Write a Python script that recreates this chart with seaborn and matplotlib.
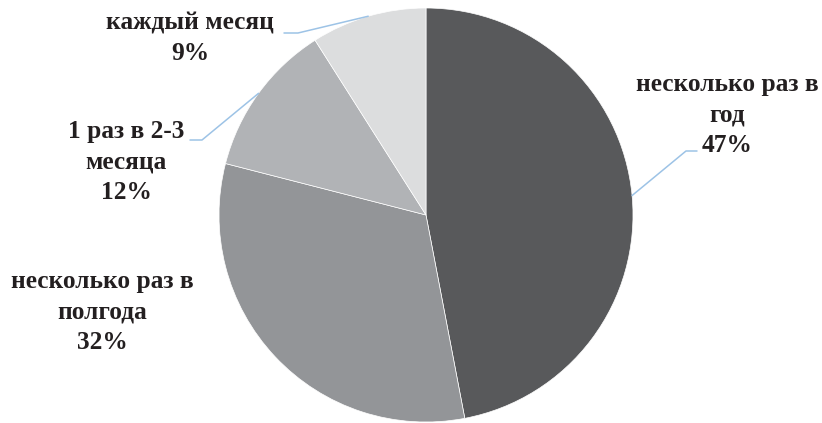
import numpy as np
import matplotlib
matplotlib.use("Agg")
import matplotlib.pyplot as plt
import seaborn as sns

# Survey: how often respondents do it
categories = ["несколько раз в\nгод", "несколько раз в\nполгода", "1 раз в 2-3\nмесяца", "каждый месяц"]
shares = [47, 32, 12, 9]
colors = ["#58595b", "#939598", "#b1b3b6", "#dcddde"]

sns.set_theme(style="white")
plt.rcParams["font.family"] = ["Liberation Serif", "DejaVu Serif"]

W, H = 822, 423
fig = plt.figure(figsize=(W / 100, H / 100), dpi=100)
ax = fig.add_axes([0, 0, 1, 1])
ax.set_xlim(0, W)
ax.set_ylim(0, H)
ax.set_aspect("equal")
ax.axis("off")

cx, cy, r = 426, H - 215, 207
wedges, _ = ax.pie(shares, colors=colors, startangle=90, counterclock=False,
                   center=(cx, cy), radius=r,
                   wedgeprops=dict(edgecolor="white", linewidth=0.5))
ax.set_xlim(0, W)
ax.set_ylim(0, H)

# label text centres (pixels from top) and leader elbows
label_pos = [(727, 115), (102, 312), (126, 162), (190, 38)]
elbows = [[(697, 151), (686, 151)], None, [(190, 140), (202, 140)], [(284, 33), (298, 33)]]

for w, cat, v, (lx, ly), elb in zip(wedges, categories, shares, label_pos, elbows):
    ax.text(lx, H - ly, f"{cat}\n{v}%", ha="center", va="center",
            fontsize=18.3, fontweight="bold", color="#231f20", linespacing=1.4)
    if elb is not None:
        ang = np.deg2rad((w.theta1 + w.theta2) / 2)
        ex, ey = cx + r * np.cos(ang), cy + r * np.sin(ang)
        xs = [elb[0][0], elb[1][0], ex]
        ys = [H - elb[0][1], H - elb[1][1], ey]
        ax.plot(xs, ys, color="#9dc3e6", linewidth=1.1)

fig.savefig("out.png", dpi=100)
